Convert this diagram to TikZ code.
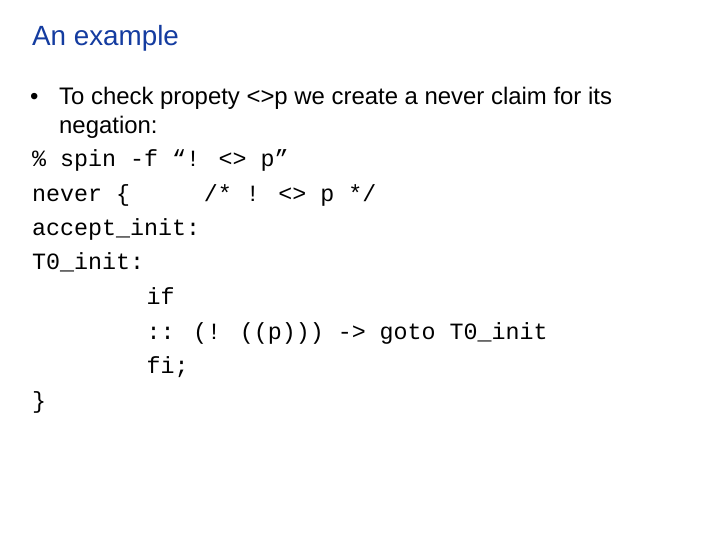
\documentclass[tikz,border=0pt]{standalone}
\usepackage{fontspec}
\setmainfont{Liberation Sans}
\newfontfamily\codefont{Liberation Mono}
\definecolor{titleblue}{RGB}{20,60,160}
\begin{document}
\begin{tikzpicture}[x=1bp,y=-1bp,
  txt/.style={anchor=base west,inner sep=0pt,font=\fontsize{24}{28}\selectfont},
  code/.style={anchor=base west,inner sep=0pt,font=\codefont\fontsize{23.4}{28}\selectfont}]
\useasboundingbox[fill=white] (0,0) rectangle (720,540);
\node[anchor=base west,inner sep=0pt,font=\fontsize{27.9}{32}\selectfont,text=titleblue] (title) at (32,46) {An example};
\node[txt] (bul) at (30,105) {•};
\node[txt] (l1) at (59,105) {To check propety <>p we create a never claim for its};
\node[txt] (l2) at (59,134) {negation:};
\node[code] (c1) at (32,167) {\% spin -f “! <> p”};
\node[code] (c2) at (32,202) {never \{};
\node[code] (c2b) at (203.6,202) {/* ! <> p */};
\node[code] (c3) at (32,236) {accept\_init:};
\node[code] (c4) at (32,270) {T0\_init:};
\node[code] (c5) at (146.4,304) {if};
\node[code] (c6) at (146.4,339) {:: (! ((p))) -> goto T0\_init};
\node[code] (c7) at (146.4,373) {fi;};
\node[code] (c8) at (32,408) {\}};
\end{tikzpicture}
\end{document}
